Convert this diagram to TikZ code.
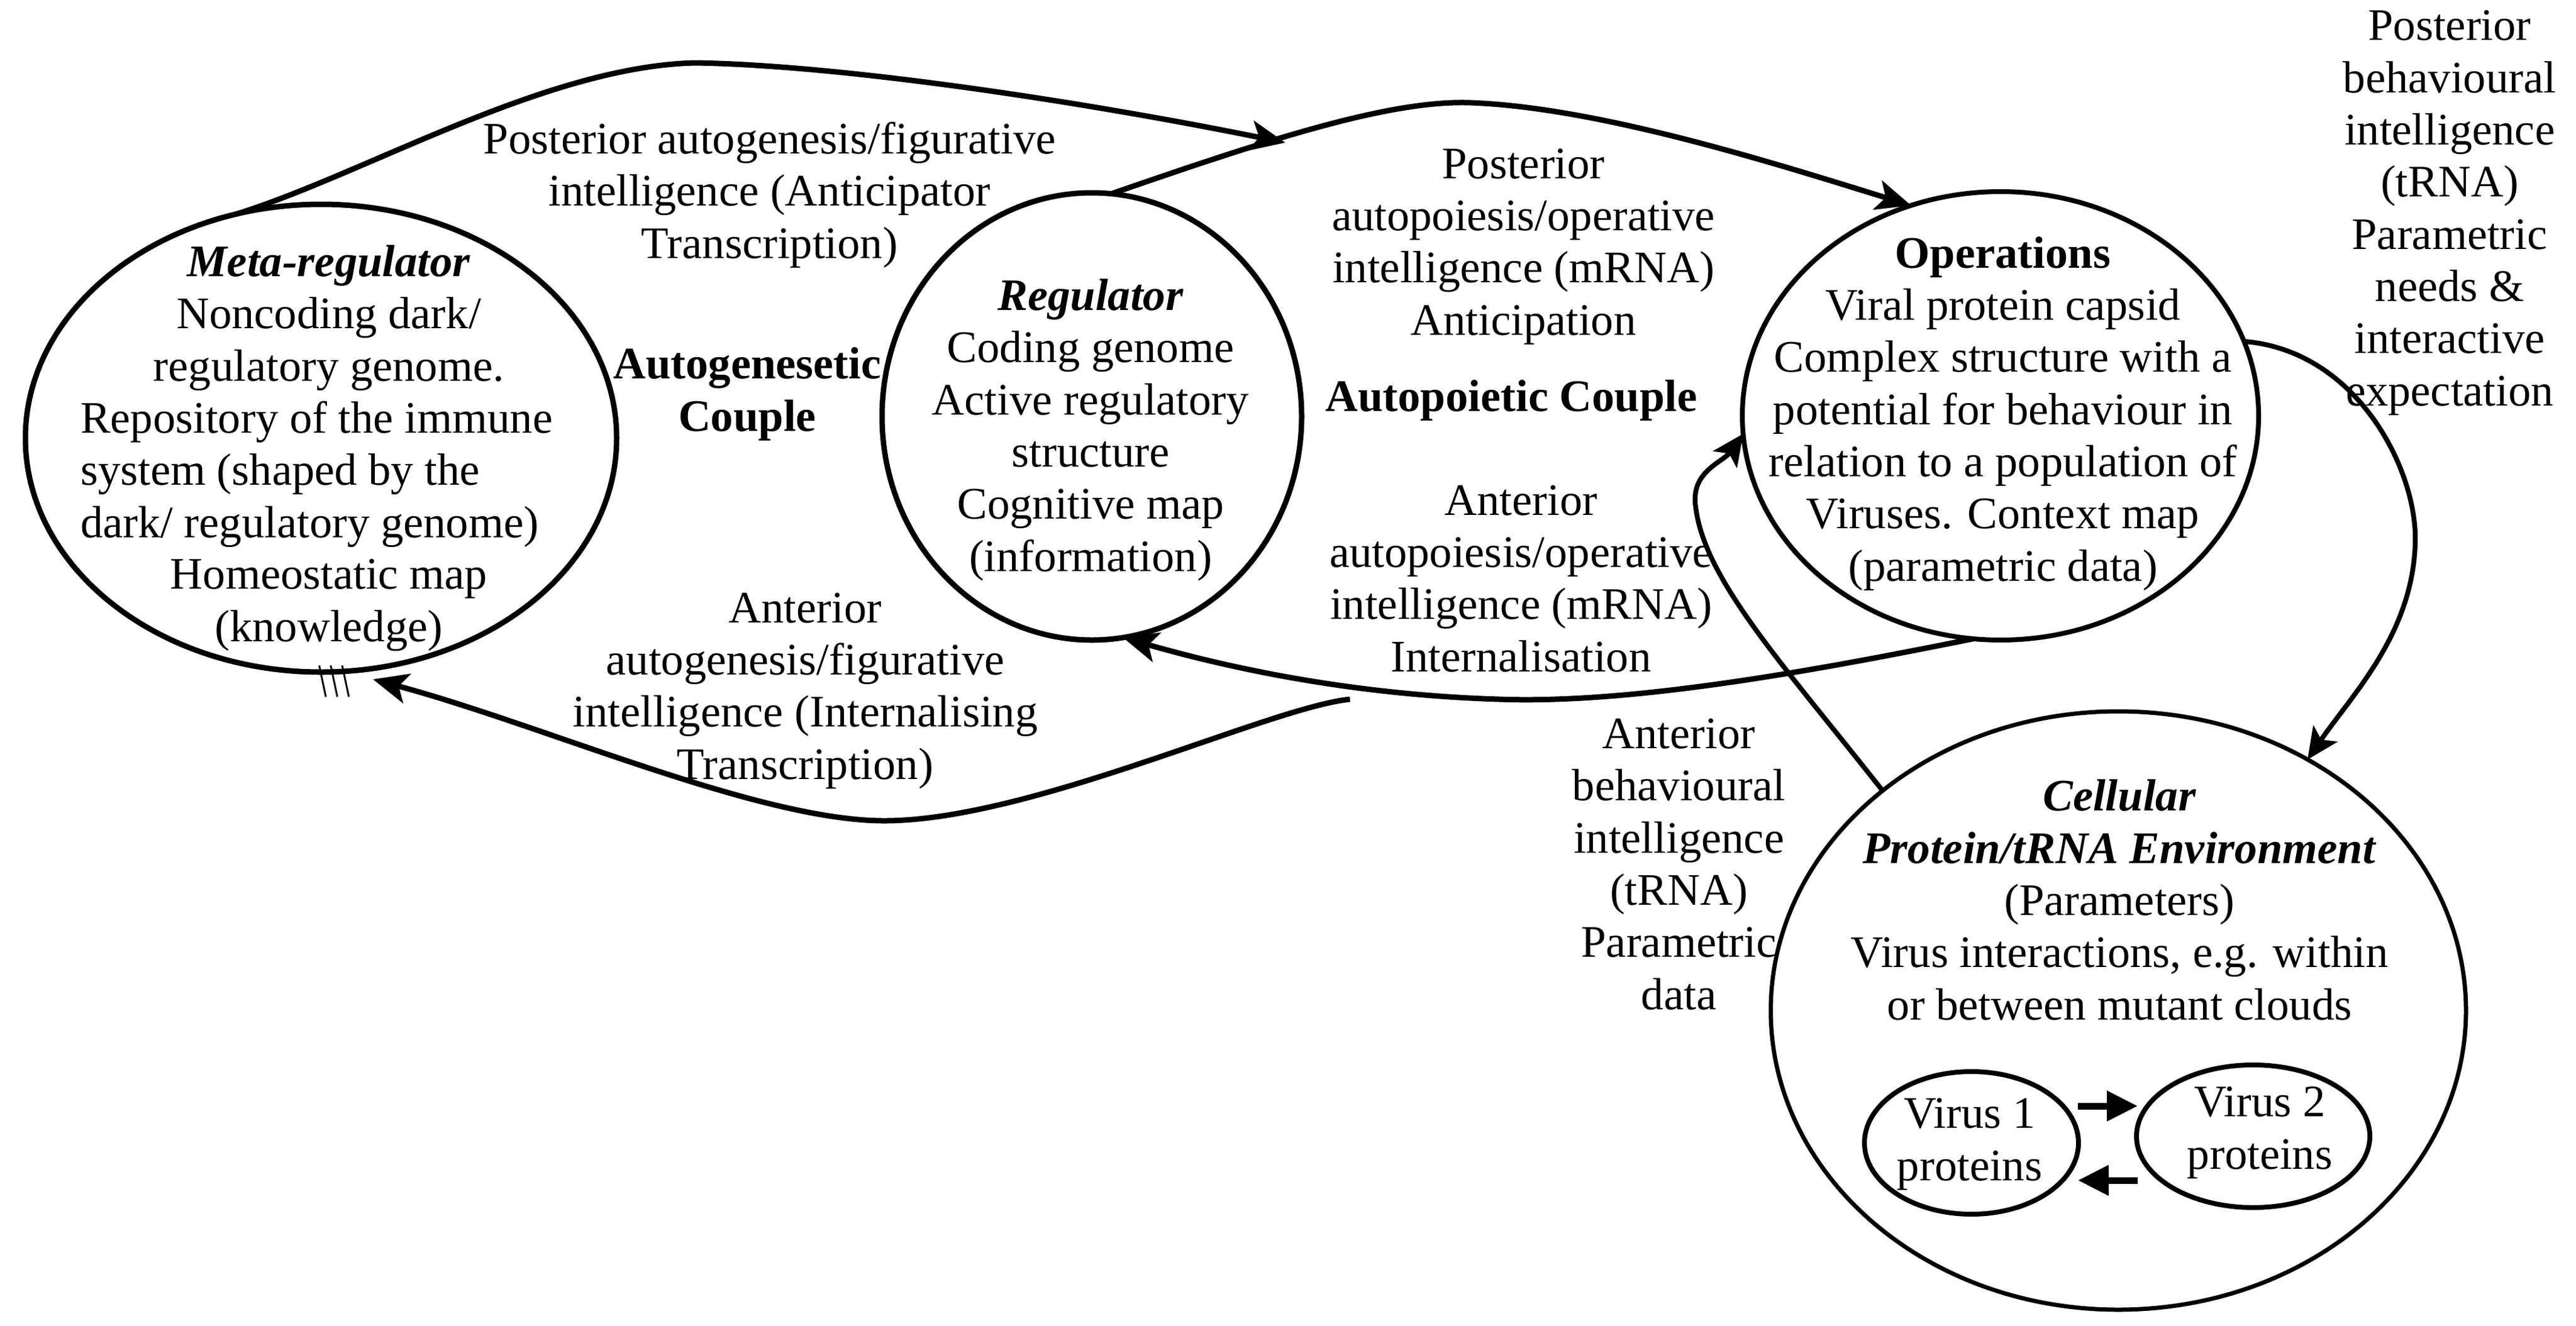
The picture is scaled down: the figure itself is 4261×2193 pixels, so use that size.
\documentclass[tikz,border=0pt]{standalone}
\usepackage{fontspec}
\setmainfont{Liberation Serif}
\usetikzlibrary{arrows.meta,shapes.geometric}
\begin{document}
\begin{tikzpicture}[x=1pt,y=-1pt,
  every node/.style={font=\fontsize{74.6}{86.3}\selectfont, inner sep=0pt, outer sep=0pt},
  oval/.style={draw, ellipse, line width=9pt, inner sep=0pt, outer sep=0pt},
  txt/.style={align=center, anchor=base},
  arr/.style={line width=9pt, -{Stealth[length=58pt,width=50pt,inset=14pt]}},
  thinarr/.style={line width=8pt, -{Stealth[length=52pt,width=48pt,inset=12pt]}},
  swaparr/.style={line width=11pt, -{Triangle[length=51pt,width=48pt]}},
  tick/.style={line width=3pt}
]
\useasboundingbox (0,0) rectangle (4261,2193);

% ellipses
\node[oval, minimum width=978pt, minimum height=774pt] (meta) at (531,725) {};
\node[oval, minimum width=694pt, minimum height=740pt] (reg) at (1806,689) {};
\node[oval, line width=8pt, minimum width=854pt, minimum height=742pt] (ops) at (3309,688) {};
\node[oval, line width=7pt, minimum width=1150pt, minimum height=990pt] (cell) at (3504,1672) {};
\node[oval, line width=8pt, minimum width=354pt, minimum height=236pt] (v1) at (3261,1891) {};
\node[oval, line width=8pt, minimum width=386pt, minimum height=236pt] (v2) at (3727,1880) {};

% texts (positions are the baselines of the last lines)
\node[txt] (metat1) at (544,630) {\textbf{\textit{Meta-regulator}}\\Noncoding dark/\\regulatory genome.};
\node[align=left, anchor=base west] (metat2) at (133,889) {Repository of the immune\\system (shaped by the\\dark/ regulatory genome)};
\node[txt] (metat3) at (544,1061) {Homeostatic map\\(knowledge)};

\node[txt] (post1) at (1273,427) {Posterior autogenesis/figurative\\intelligence (Anticipator\\Transcription)};
\node[txt] (autog) at (1236,713) {\textbf{Autogenesetic}\\\textbf{Couple}};
\node[txt] (ant1) at (1332,1289) {Anterior\\autogenesis/figurative\\intelligence (Internalising\\Transcription)};

\node[txt] (regt) at (1804,945) {\textbf{\textit{Regulator}}\\Coding genome\\Active regulatory\\structure\\Cognitive map\\(information)};

\node[txt] (post2) at (2520,554) {Posterior\\autopoiesis/operative\\intelligence (mRNA)\\Anticipation};
\node[txt] (autop) at (2500,680) {\textbf{Autopoietic Couple}};
\node[txt] (ant2) at (2516,1111) {Anterior\\autopoiesis/operative\\intelligence (mRNA)\\Internalisation};

\node[txt] (opst) at (3313,961) {\textbf{Operations}\\Viral protein capsid\\Complex structure with a\\potential for behaviour in\\relation to a population of\\Viruses. Context map\\(parametric data)};

\node[txt] (post3) at (4052,671) {Posterior\\behavioural\\intelligence\\(tRNA)\\Parametric\\needs \&\\interactive\\expectation};

\node[txt] (ant3) at (2777,1670) {Anterior\\behavioural\\intelligence\\(tRNA)\\Parametric\\data};

\node[txt] (cellt) at (3506,1687) {\textbf{\textit{Cellular}}\\\textbf{\textit{Protein/tRNA Environment}}\\(Parameters)\\Virus interactions, e.g. within\\or between mutant clouds};

\node[txt] (v1t) at (3258,1953) {Virus 1\\proteins};
\node[txt] (v2t) at (3738,1934) {Virus 2\\proteins};

% tick marks below meta-regulator
\draw[tick] (528,1101) -- (539,1153);
\draw[tick] (547,1101) -- (558,1153);
\draw[tick] (566,1101) -- (577,1153);

% connectors
\coordinate (a1end) at (2126,236);
\draw[arr] (meta.111) .. controls (600,290) and (900,110) .. (1150,104)
                      .. controls (1400,108) and (1800,170) .. (a1end);
\draw[arr] (reg.85) .. controls (2100,230) and (2300,165) .. (2433,170)
                    .. controls (2650,178) and (2950,275) .. (ops.113);
\draw[thinarr] (ops.17) .. controls (3900,580) and (4000,780) .. (3995,900)
                        .. controls (3990,1050) and (3890,1150) .. (cell.53);
\draw[arr] (ops.263) .. controls (3000,1110) and (2700,1165) .. (2480,1157)
                     .. controls (2250,1150) and (2050,1110) .. (reg.278);
\coordinate (a5start) at (2233,1157);
\coordinate (a5end) at (617,1124);
\draw[arr] (a5start) .. controls (2100,1170) and (1700,1360) .. (1459,1358)
                     .. controls (1250,1356) and (900,1200) .. (a5end);
\draw[thinarr] (cell.137) .. controls (2950,1100) and (2820,960) .. (2805,840)
                          .. controls (2795,780) and (2850,765) .. (ops.184);

% small arrows between viruses
\coordinate (r1s) at (3437,1830);
\coordinate (r1e) at (3536,1830);
\coordinate (r2s) at (3536,1953);
\coordinate (r2e) at (3437,1953);
\draw[swaparr] (r1s) -- (r1e);
\draw[swaparr] (r2s) -- (r2e);
\end{tikzpicture}
\end{document}
